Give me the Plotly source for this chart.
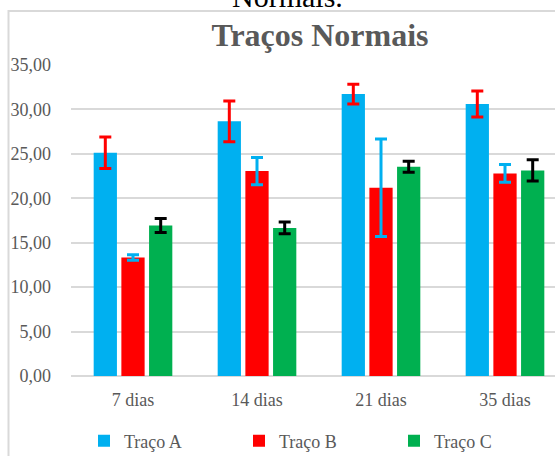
import plotly.graph_objects as go

categories = ["7 dias", "14 dias", "21 dias", "35 dias"]
series_names = ["Traço A", "Traço B", "Traço C"]
traco_a = [25.12, 28.66, 31.73, 30.61]
traco_a_err = [1.78, 2.29, 1.11, 1.47]
traco_b = [13.34, 23.06, 21.18, 22.80]
traco_b_err = [0.30, 1.54, 5.48, 1.00]
traco_c = [16.94, 16.67, 23.54, 23.14]
traco_c_err = [0.79, 0.65, 0.62, 1.20]
y_ticks = [0, 5, 10, 15, 20, 25, 30, 35]

bar_colors = ["#00B0F0", "#FF0000", "#00B050"]
err_colors = ["#FF0000", "#00B0F0", "#000000"]
values = [traco_a, traco_b, traco_c]
errors = [traco_a_err, traco_b_err, traco_c_err]

FONT = "Liberation Serif"
GREY = "#595959"

fig = go.Figure()
for name, vals, errs, bc, ec in zip(series_names, values, errors, bar_colors, err_colors):
    fig.add_trace(go.Bar(
        x=categories, y=vals, name=name,
        marker=dict(color=bc, line=dict(width=0)),
        error_y=dict(type="data", array=errs, visible=True,
                     color=ec, thickness=3, width=6),
    ))

W, H = 555, 456
L, R, T, B = 71, 0, 65, 80
pw, ph = W - L - R, H - T - B

def px_x(p):
    return (p - L) / pw

def px_y(p):
    return (H - B - p) / ph

fig.update_layout(
    width=W, height=H,
    margin=dict(l=L, r=R, t=T, b=B, autoexpand=False),
    paper_bgcolor="white", plot_bgcolor="white",
    barmode="group", bargap=0.33, bargroupgap=0.16,
    separators=",.",
    font=dict(family=FONT, size=18, color=GREY),
    title=dict(text="<b>Traços Normais</b>", x=320 / W, xanchor="center",
               xref="container", yref="container", y=1 - 35 / H, yanchor="middle",
               font=dict(family=FONT, size=32, color=GREY)),
    xaxis=dict(range=[-0.5, 3.5 - 12 / 124], showgrid=False, showline=False,
               ticks="", automargin=False,
               tickfont=dict(family=FONT, size=18, color=GREY),
               ticklabelstandoff=11),
    yaxis=dict(range=[0, 35], tickvals=y_ticks, tickformat=".2f",
               showgrid=True, gridcolor="#D9D9D9", gridwidth=1.5,
               zeroline=True, zerolinecolor="#D9D9D9", zerolinewidth=1.5,
               showline=False, ticks="", automargin=False,
               tickfont=dict(family=FONT, size=18, color=GREY),
               ticklabelstandoff=19),
    legend=dict(orientation="h", xref="container", yref="container",
                x=84 / W, xanchor="left",
                y=1 - 441 / H, yanchor="middle", entrywidth=110,
                font=dict(family=FONT, size=18, color=GREY),
                bgcolor="rgba(0,0,0,0)"),
    shapes=[dict(type="rect", xref="paper", yref="paper",
                 x0=px_x(8.5), x1=px_x(700), y0=px_y(700), y1=px_y(11),
                 line=dict(color="#D9D9D9", width=2), fillcolor="rgba(0,0,0,0)",
                 layer="below")],
    annotations=[dict(text="Normais.", xref="paper", yref="paper",
                      x=px_x(287), y=px_y(15), xanchor="center", yanchor="bottom",
                      showarrow=False,
                      font=dict(family=FONT, size=30, color="#000000"))],
)

fig.write_html("out.html", config={"displayModeBar": False},
               post_script="document.body.style.margin='0';document.body.style.overflow='hidden';")
